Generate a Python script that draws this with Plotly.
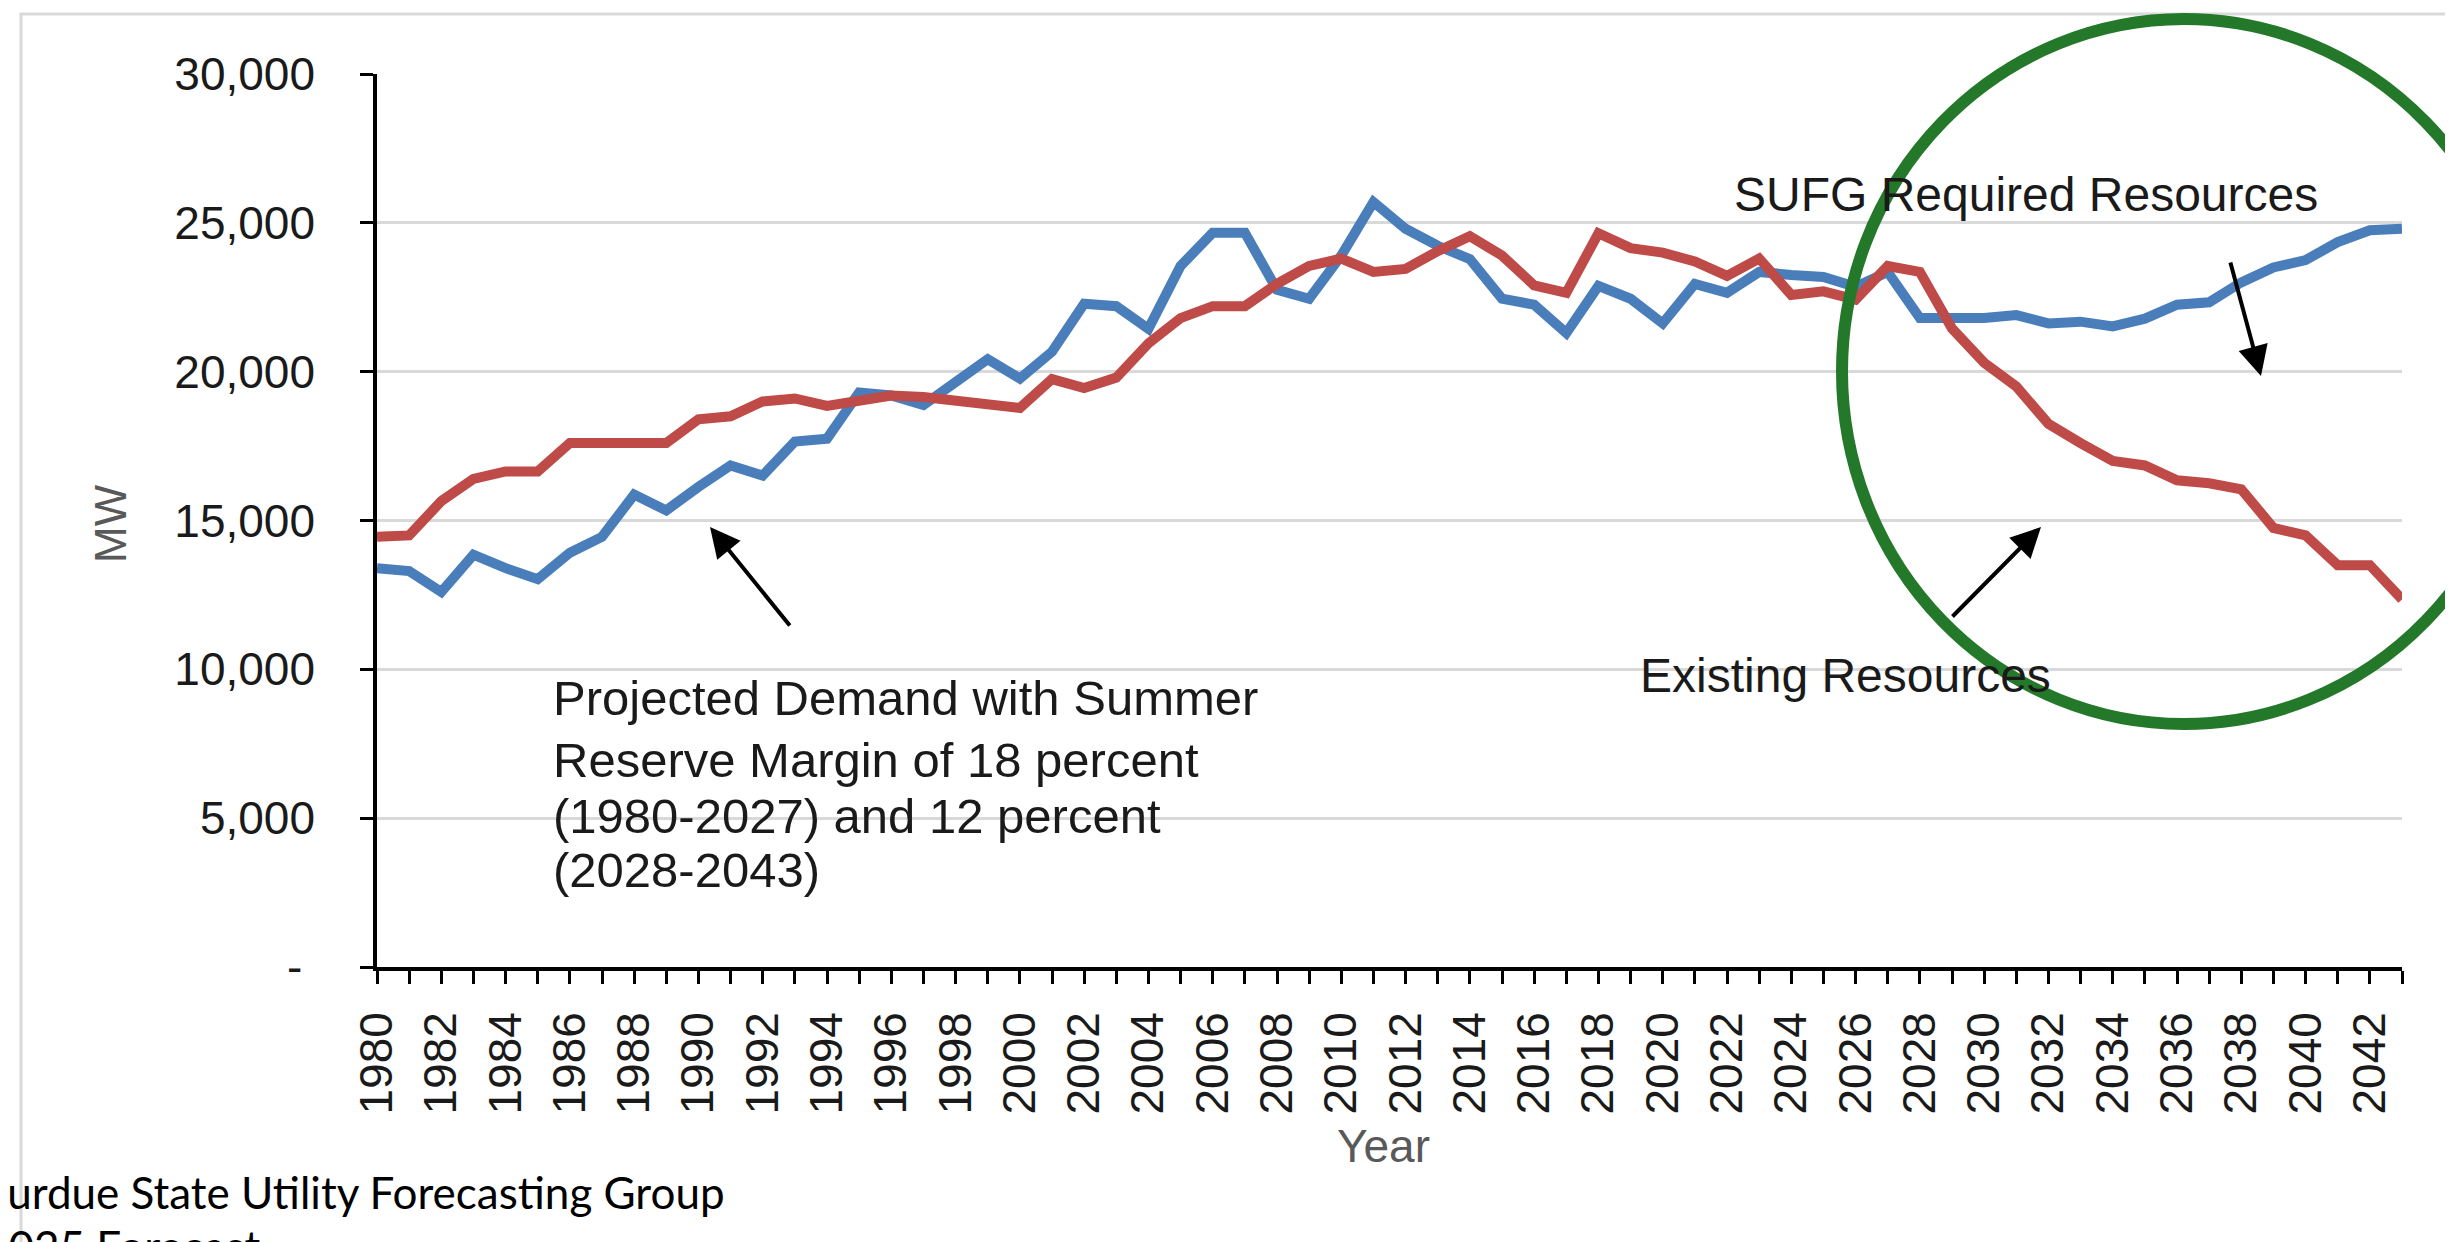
import plotly.graph_objects as go

# ---------------- data ----------------
years = list(range(1980, 2044))

required_resources = [
    13400, 13300, 12600, 13850, 13400, 13030, 13920, 14450, 15870, 15340,
    16130, 16850, 16510, 17650, 17750, 19300, 19200, 18880, 19650, 20420,
    19770, 20670, 22280, 22200, 21440, 23550, 24670, 24670, 22750, 22450,
    23900, 25700, 24800, 24230, 23780, 22450, 22250, 21300, 22880, 22450,
    21620, 22950, 22650, 23350, 23250, 23180, 22850, 23350, 21800, 21800,
    21800, 21900, 21620, 21680, 21520, 21780, 22250, 22330, 23000, 23500,
    23750, 24350, 24750, 24800,
]

existing_resources = [
    14450, 14500, 15650, 16400, 16650, 16650, 17600, 17600, 17600, 17600,
    18400, 18500, 19000, 19100, 18850, 19050, 19200, 19150, 19050, 18950,
    18780, 19750, 19450, 19800, 20950, 21800, 22200, 22200, 22950, 23550,
    23800, 23350, 23450, 24050, 24550, 23900, 22900, 22650, 24650, 24150,
    24000, 23700, 23220, 23800, 22580, 22700, 22420, 23550, 23350, 21450,
    20300, 19500, 18250, 17600, 17000, 16850, 16350, 16250, 16050, 14750,
    14500, 13500, 13500, 12350,
]

y_tickvals = [0, 5000, 10000, 15000, 20000, 25000, 30000]
y_ticktext = ["-\u00a0", "5,000", "10,000", "15,000", "20,000", "25,000", "30,000"]

# ---------------- geometry (pixels) ----------------
W, H = 2453, 1242
L, R, T, B = 369, 2394, 66, 959


def px(x):
    return (x - L) / (R - L)


def py(y):
    return (B - y) / (B - T)


FONT = "Liberation Sans, Arial, sans-serif"

fig = go.Figure()
fig.add_trace(go.Scatter(x=years, y=required_resources, mode="lines",
                         line=dict(color="#4a7ebb", width=10),
                         name="SUFG Required Resources"))
fig.add_trace(go.Scatter(x=years, y=existing_resources, mode="lines",
                         line=dict(color="#be4b48", width=10),
                         name="Existing Resources"))

fig.update_layout(
    width=W, height=H,
    margin=dict(l=L, r=W - R, t=T, b=H - B, pad=0),
    paper_bgcolor="white", plot_bgcolor="white",
    showlegend=False,
    font=dict(family=FONT, color="#1a1a1a"),
)

fig.update_xaxes(
    range=[1980, 2043], tick0=1980, dtick=2, tickangle=-90,
    ticks="outside", ticklen=13, tickwidth=3, tickcolor="black",
    showline=True, linecolor="black", linewidth=3.5,
    showgrid=False, zeroline=False,
    tickfont=dict(size=46, family=FONT, color="#1a1a1a"),
    ticklabelstandoff=10,
    minor=dict(dtick=1, tick0=1980, ticks="outside", ticklen=13,
               tickwidth=3, tickcolor="black", showgrid=False),
)

fig.update_yaxes(
    range=[0, 30000], tickmode="array", tickvals=y_tickvals, ticktext=y_ticktext,
    ticks="outside", ticklen=13, tickwidth=3, tickcolor="black",
    showline=True, linecolor="black", linewidth=3.5,
    showgrid=True, gridcolor="#d9d9d9", gridwidth=3, zeroline=False,
    tickfont=dict(size=46, family=FONT, color="#1a1a1a"),
    ticklabelstandoff=36,
)

ann = []


def text_ann(x, y, s, size, color="#1a1a1a", xanchor="left", font=FONT, angle=0):
    ann.append(dict(x=px(x), y=py(y), xref="paper", yref="paper", text=s,
                    showarrow=False, xanchor=xanchor, yanchor="middle",
                    textangle=angle, font=dict(size=size, family=font, color=color)))


text_ann(1724, 186, "SUFG Required Resources", 48)
text_ann(1630, 667, "Existing Resources", 48)
for yy, line in zip([690, 752, 808, 862],
                    ["Projected Demand with Summer", "Reserve Margin of 18 percent",
                     "(1980-2027) and 12 percent", "(2028-2043)"]):
    text_ann(543, yy, line, 49)

text_ann(1375, 1138, "Year", 46, color="#595959", xanchor="center")
text_ann(102, 516, "MW", 44, color="#595959", xanchor="center", angle=-90)

text_ann(-29, 1184, "Purdue State Utility Forecasting Group", 44, color="black",
         font="Lato, Noto Sans, sans-serif")
text_ann(-27, 1238, "2025 Forecast", 44, color="black", font="Lato, Noto Sans, sans-serif")


def arrow(hx, hy, tx, ty):
    ann.append(dict(x=px(hx), y=py(hy), xref="paper", yref="paper",
                    ax=tx - hx, ay=ty - hy, axref="pixel", ayref="pixel",
                    text="", showarrow=True, arrowhead=2, arrowsize=1.5,
                    arrowwidth=4, arrowcolor="black"))


arrow(702, 519, 783, 619)
arrow(2253, 368, 2222, 253)
arrow(2033, 519, 1943, 610)

fig.update_layout(annotations=ann)

fig.add_shape(type="rect", xref="paper", yref="paper",
              x0=px(13), x1=px(2449), y0=py(6), y1=py(1239),
              line=dict(color="#d9d9d9", width=3), layer="below")
fig.add_shape(type="circle", xref="paper", yref="paper",
              x0=px(1834), x1=px(2518), y0=py(11), y1=py(716),
              line=dict(color="#24782a", width=12), layer="above")

fig.write_html("out.html")
